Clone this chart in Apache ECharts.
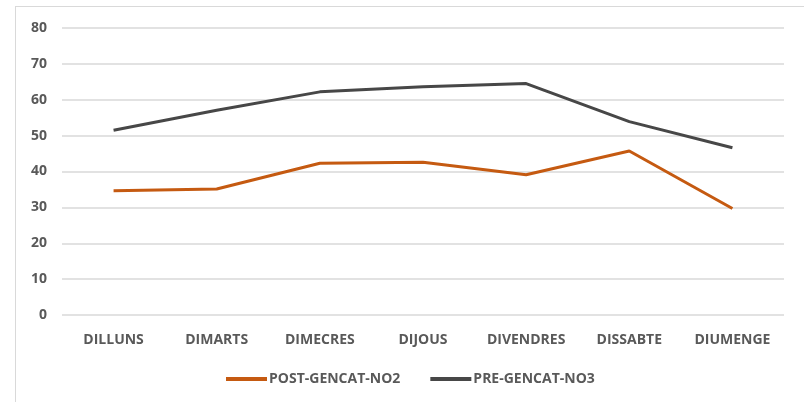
<!DOCTYPE html>
<html>
<head>
<meta charset="utf-8">
<script src="https://cdn.jsdelivr.net/npm/echarts@6/dist/echarts.min.js"></script>
<style>
  html, body { margin: 0; padding: 0; background: #fff; }
  #frame { position: absolute; left: 15px; top: 6px; width: 789px; height: 396px;
           border-left: 1px solid #d9d9d9; border-top: 1px solid #d9d9d9; }
  #chart { position: absolute; left: 0; top: 0; width: 804px; height: 402px; }
</style>
</head>
<body>
<div id="frame"></div>
<div id="chart"></div>
<script>
const days = ["DILLUNS", "DIMARTS", "DIMECRES", "DIJOUS", "DIVENDRES", "DISSABTE", "DIUMENGE"];
const postNo2 = [34.6, 35.1, 42.3, 42.6, 39.1, 45.7, 29.7];
const preNo3 = [51.5, 57.1, 62.2, 63.6, 64.5, 53.9, 46.6];

const labelFont = { color: "#595959", fontFamily: "Open Sans", fontWeight: "bold", fontSize: 14 };

const chart = echarts.init(document.getElementById("chart"));
chart.setOption({
  animation: false,
  grid: { left: 62, right: 20, top: 28, bottom: 87 },
  legend: {
    top: 367,
    left: 221,
    icon: "rect",
    itemWidth: 41,
    itemHeight: 4,
    itemGap: 30,
    textStyle: { ...labelFont, padding: [0, 0, 0, -3] },
    data: ["POST-GENCAT-NO2", "PRE-GENCAT-NO3"],
  },
  xAxis: {
    type: "category",
    data: days,
    boundaryGap: true,
    axisLine: { show: false },
    axisTick: { show: false },
    axisLabel: { ...labelFont, margin: 18 },
  },
  yAxis: {
    type: "value",
    min: 0,
    max: 80,
    interval: 10,
    axisLine: { show: false },
    axisTick: { show: false },
    axisLabel: { ...labelFont, margin: 15 },
    splitLine: { lineStyle: { color: "#d9d9d9", width: 1.5 } },
  },
  series: [
    {
      name: "POST-GENCAT-NO2",
      type: "line",
      data: postNo2,
      symbol: "none",
      color: "#c55a11",
      lineStyle: { width: 3, color: "#c55a11" },
    },
    {
      name: "PRE-GENCAT-NO3",
      type: "line",
      data: preNo3,
      symbol: "none",
      color: "#474747",
      lineStyle: { width: 3, color: "#474747" },
    },
  ],
});
</script>
</body>
</html>
